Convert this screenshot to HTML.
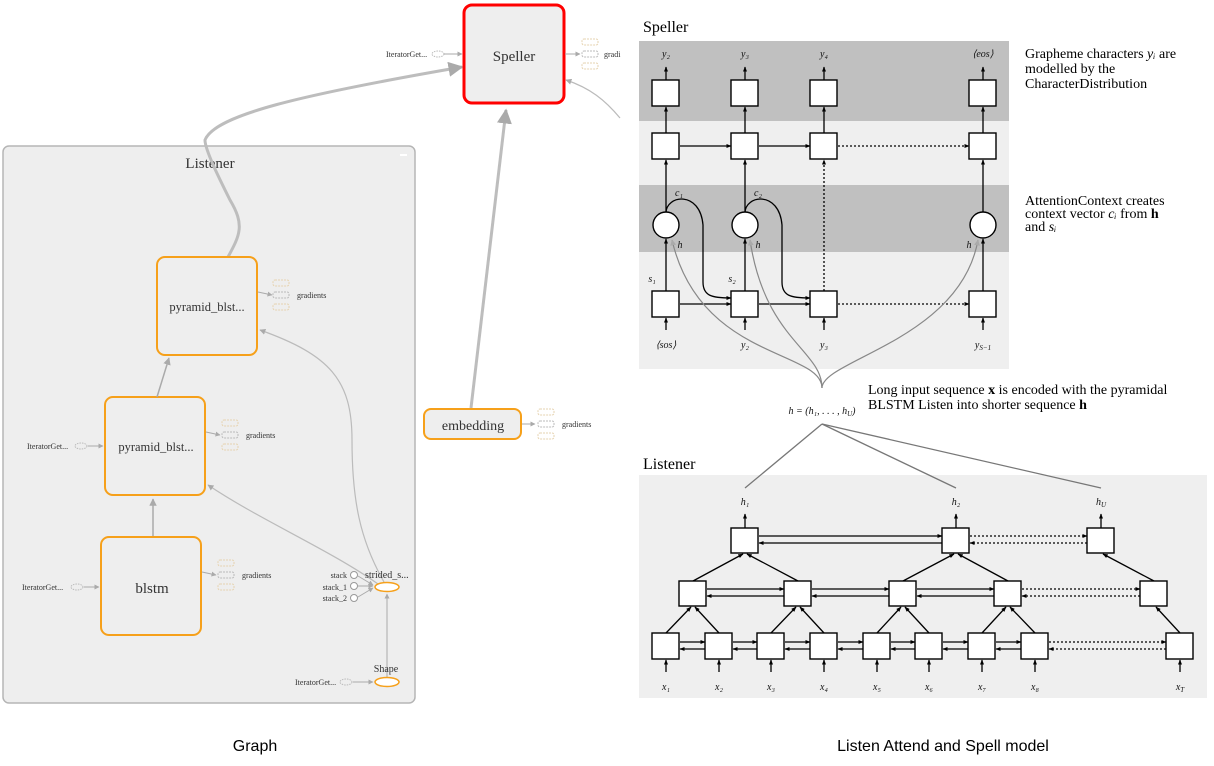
<!DOCTYPE html>
<html><head><meta charset="utf-8"><style>
html,body{margin:0;padding:0;background:#fff;}
svg{display:block;}
.g{font-family:"Liberation Serif",serif;fill:#333;}
.m{font-family:"Liberation Serif",serif;fill:#111;font-style:italic;}
.t{font-family:"Liberation Serif",serif;fill:#000;}
</style></head><body>
<svg width="1214" height="766" viewBox="0 0 1214 766" xmlns="http://www.w3.org/2000/svg">
<defs>
<marker id="ga" viewBox="0 0 10 10" refX="9" refY="5" markerWidth="5" markerHeight="5" orient="auto"><path d="M0,0L10,5L0,10z" fill="#aaa"/></marker>
<marker id="ba" viewBox="0 0 10 10" refX="9" refY="5" markerWidth="4" markerHeight="4" orient="auto"><path d="M0,1L10,5L0,9z" fill="#000"/></marker>
<g id="icons">
<rect x="0" y="-15" width="16" height="6" rx="2" fill="none" stroke="#e6d3b0" stroke-dasharray="2,1"/>
<rect x="0" y="-3" width="16" height="6" rx="2" fill="none" stroke="#bbb" stroke-dasharray="2,1"/>
<rect x="0" y="9" width="16" height="6" rx="2" fill="none" stroke="#e6d3b0" stroke-dasharray="2,1"/>
</g>
</defs>

<!-- ============ GRAPH (left) ============ -->
<rect x="3" y="146" width="412" height="557" rx="6" fill="#eeeeee" stroke="#b5b5b5" stroke-width="1.5"/>
<rect x="400" y="154" width="7" height="2" fill="#fff"/>
<text x="210" y="168" class="g" font-size="15" text-anchor="middle">Listener</text>

<path d="M228,257 C240,235 245,225 230,200 C220,180 205,150 205,140 C215,115 300,95 462,67" fill="none" stroke="#bdbdbd" stroke-width="3" marker-end="url(#ga)"/>
<path d="M471,408 L506,110" fill="none" stroke="#bdbdbd" stroke-width="3" marker-end="url(#ga)"/>
<path d="M620,118 C605,100 590,88 566,80" fill="none" stroke="#bbb" stroke-width="1.2" marker-end="url(#ga)"/>

<rect x="464" y="5" width="100" height="98" rx="8" fill="#eeeeee" stroke="#f00" stroke-width="3"/>
<text x="514" y="61" class="g" font-size="15" text-anchor="middle">Speller</text>
<text x="386" y="57" class="g" font-size="8">IteratorGet...</text>
<ellipse cx="438" cy="54" rx="6" ry="3" fill="none" stroke="#bbb" stroke-dasharray="1.5,1"/>
<line x1="444" y1="54" x2="462" y2="54" stroke="#aaa" marker-end="url(#ga)"/>
<line x1="565" y1="54" x2="580" y2="54" stroke="#aaa" marker-end="url(#ga)"/>
<use href="#icons" x="582" y="54"/>
<text x="604" y="57" class="g" font-size="8">gradi</text>

<rect x="157" y="257" width="100" height="98" rx="8" fill="#eeeeee" stroke="#f6a01a" stroke-width="2"/>
<text x="207" y="311" class="g" font-size="12.5" text-anchor="middle">pyramid_blst...</text>
<line x1="258" y1="292" x2="272" y2="295" stroke="#aaa" marker-end="url(#ga)"/>
<use href="#icons" x="273" y="295"/>
<text x="297" y="298" class="g" font-size="8">gradients</text>

<rect x="105" y="397" width="100" height="98" rx="8" fill="#eeeeee" stroke="#f6a01a" stroke-width="2"/>
<text x="156" y="451" class="g" font-size="12.5" text-anchor="middle">pyramid_blst...</text>
<text x="27" y="449" class="g" font-size="8">IteratorGet...</text>
<ellipse cx="81" cy="446" rx="6" ry="3" fill="none" stroke="#bbb" stroke-dasharray="1.5,1"/>
<line x1="88" y1="446" x2="103" y2="446" stroke="#aaa" marker-end="url(#ga)"/>
<line x1="206" y1="432" x2="220" y2="435" stroke="#aaa" marker-end="url(#ga)"/>
<use href="#icons" x="222" y="435"/>
<text x="246" y="438" class="g" font-size="8">gradients</text>
<line x1="157" y1="397" x2="169" y2="358" stroke="#aaa" stroke-width="1.5" marker-end="url(#ga)"/>

<rect x="101" y="537" width="100" height="98" rx="8" fill="#eeeeee" stroke="#f6a01a" stroke-width="2"/>
<text x="152" y="593" class="g" font-size="15" text-anchor="middle">blstm</text>
<text x="22" y="590" class="g" font-size="8">IteratorGet...</text>
<ellipse cx="77" cy="587" rx="6" ry="3" fill="none" stroke="#bbb" stroke-dasharray="1.5,1"/>
<line x1="84" y1="587" x2="99" y2="587" stroke="#aaa" marker-end="url(#ga)"/>
<line x1="202" y1="572" x2="216" y2="575" stroke="#aaa" marker-end="url(#ga)"/>
<use href="#icons" x="218" y="575"/>
<text x="242" y="578" class="g" font-size="8">gradients</text>
<line x1="153" y1="536" x2="153" y2="499" stroke="#aaa" stroke-width="1.5" marker-end="url(#ga)"/>

<path d="M378,584 C330,550 260,520 208,485" fill="none" stroke="#bbb" stroke-width="1.2" marker-end="url(#ga)"/>
<path d="M384,582 C360,540 352,500 352,440 C352,380 330,355 260,330" fill="none" stroke="#bbb" stroke-width="1.2" marker-end="url(#ga)"/>
<text x="347" y="578" class="g" font-size="8" text-anchor="end">stack</text>
<text x="347" y="590" class="g" font-size="8" text-anchor="end">stack_1</text>
<text x="347" y="601" class="g" font-size="8" text-anchor="end">stack_2</text>
<circle cx="354" cy="575" r="3.5" fill="#fff" stroke="#999"/>
<circle cx="354" cy="586" r="3.5" fill="#fff" stroke="#999"/>
<circle cx="354" cy="598" r="3.5" fill="#fff" stroke="#999"/>
<line x1="358" y1="576" x2="373" y2="585" stroke="#aaa" marker-end="url(#ga)"/>
<line x1="358" y1="586" x2="373" y2="586" stroke="#aaa" marker-end="url(#ga)"/>
<line x1="358" y1="597" x2="373" y2="588" stroke="#aaa" marker-end="url(#ga)"/>
<text x="365" y="578" class="g" font-size="10">strided_s...</text>
<ellipse cx="387" cy="587" rx="12" ry="4.5" fill="#fff" stroke="#f6a01a" stroke-width="1.5"/>
<line x1="387" y1="677" x2="387" y2="594" stroke="#aaa" marker-end="url(#ga)"/>
<text x="386" y="672" class="g" font-size="10" text-anchor="middle">Shape</text>
<text x="295" y="685" class="g" font-size="8">IteratorGet...</text>
<ellipse cx="346" cy="682" rx="6" ry="3" fill="none" stroke="#bbb" stroke-dasharray="1.5,1"/>
<line x1="353" y1="682" x2="373" y2="682" stroke="#aaa" marker-end="url(#ga)"/>
<ellipse cx="387" cy="682" rx="12" ry="4.5" fill="#fff" stroke="#f6a01a" stroke-width="1.5"/>

<rect x="424" y="409" width="97" height="30" rx="7" fill="#eeeeee" stroke="#f6a01a" stroke-width="2"/>
<text x="473" y="430" class="g" font-size="14" text-anchor="middle">embedding</text>
<line x1="522" y1="424" x2="535" y2="424" stroke="#aaa" marker-end="url(#ga)"/>
<use href="#icons" x="538" y="424"/>
<text x="562" y="427" class="g" font-size="8">gradients</text>

<text x="255" y="751" font-family="Liberation Sans,sans-serif" font-size="16" text-anchor="middle" fill="#000">Graph</text>

<!-- ============ SPELLER (right) ============ -->
<text x="643" y="32" class="t" font-size="16">Speller</text>
<rect x="639" y="41" width="370" height="80" fill="#c0c0c0"/>
<rect x="639" y="121" width="370" height="64" fill="#efefef"/>
<rect x="639" y="185" width="370" height="67" fill="#c0c0c0"/>
<rect x="639" y="252" width="370" height="117" fill="#efefef"/>

<g stroke="#000" stroke-width="1.3" fill="none">
<line x1="666" y1="80" x2="666" y2="67" marker-end="url(#ba)"/>
<line x1="745" y1="80" x2="745" y2="67" marker-end="url(#ba)"/>
<line x1="824" y1="80" x2="824" y2="67" marker-end="url(#ba)"/>
<line x1="983" y1="80" x2="983" y2="67" marker-end="url(#ba)"/>
<line x1="666" y1="133" x2="666" y2="107" marker-end="url(#ba)"/>
<line x1="745" y1="133" x2="745" y2="107" marker-end="url(#ba)"/>
<line x1="824" y1="133" x2="824" y2="107" marker-end="url(#ba)"/>
<line x1="983" y1="133" x2="983" y2="107" marker-end="url(#ba)"/>
<line x1="666" y1="213" x2="666" y2="160" marker-end="url(#ba)"/>
<line x1="745" y1="213" x2="745" y2="160" marker-end="url(#ba)"/>
<line x1="983" y1="213" x2="983" y2="160" marker-end="url(#ba)"/>
<line x1="666" y1="291" x2="666" y2="239" marker-end="url(#ba)"/>
<line x1="745" y1="291" x2="745" y2="239" marker-end="url(#ba)"/>
<line x1="983" y1="291" x2="983" y2="239" marker-end="url(#ba)"/>
<line x1="824" y1="291" x2="824" y2="160" stroke-dasharray="2,2" marker-end="url(#ba)"/>
<line x1="666" y1="330" x2="666" y2="318" marker-end="url(#ba)"/>
<line x1="745" y1="330" x2="745" y2="318" marker-end="url(#ba)"/>
<line x1="824" y1="330" x2="824" y2="318" marker-end="url(#ba)"/>
<line x1="983" y1="330" x2="983" y2="318" marker-end="url(#ba)"/>
<line x1="680" y1="146" x2="731" y2="146" marker-end="url(#ba)"/>
<line x1="759" y1="146" x2="810" y2="146" marker-end="url(#ba)"/>
<line x1="838" y1="146" x2="969" y2="146" stroke-dasharray="2,2" marker-end="url(#ba)"/>
<line x1="680" y1="304" x2="731" y2="304" marker-end="url(#ba)"/>
<line x1="759" y1="304" x2="810" y2="304" marker-end="url(#ba)"/>
<line x1="838" y1="304" x2="969" y2="304" stroke-dasharray="2,2" marker-end="url(#ba)"/>
<path d="M666,213 C666,195 700,190 703,225 L703,282 C703,296 712,298 731,298" marker-end="url(#ba)"/>
<path d="M745,213 C745,195 779,190 782,225 L782,282 C782,296 791,298 810,298" marker-end="url(#ba)"/>
</g>
<g stroke="#888" stroke-width="1.2" fill="none">
<path d="M822,388 C822,350 700,360 672,240" marker-end="url(#ga)"/>
<path d="M822,388 C822,350 765,340 750,240" marker-end="url(#ga)"/>
<path d="M822,388 C822,360 960,340 978,240" marker-end="url(#ga)"/>
</g>
<g fill="#fff" stroke="#000" stroke-width="1.4">
<rect x="652" y="80" width="27" height="26"/><rect x="731" y="80" width="27" height="26"/><rect x="810" y="80" width="27" height="26"/><rect x="969" y="80" width="27" height="26"/>
<rect x="652" y="133" width="27" height="26"/><rect x="731" y="133" width="27" height="26"/><rect x="810" y="133" width="27" height="26"/><rect x="969" y="133" width="27" height="26"/>
<circle cx="666" cy="225" r="13"/><circle cx="745" cy="225" r="13"/><circle cx="983" cy="225" r="13"/>
<rect x="652" y="291" width="27" height="26"/><rect x="731" y="291" width="27" height="26"/><rect x="810" y="291" width="27" height="26"/><rect x="969" y="291" width="27" height="26"/>
</g>
<g class="m" font-size="10" text-anchor="middle">
<text x="666" y="57">y₂</text><text x="745" y="57">y₃</text><text x="824" y="57">y₄</text><text x="983" y="57">⟨eos⟩</text>
<text x="679" y="196">c₁</text><text x="758" y="196">c₂</text>
<text x="680" y="248">h</text><text x="758" y="248">h</text><text x="969" y="248">h</text>
<text x="652" y="282">s₁</text><text x="732" y="282">s₂</text>
<text x="666" y="348">⟨sos⟩</text><text x="745" y="348">y₂</text><text x="824" y="348">y₃</text><text x="983" y="348">y<tspan font-size="7" dy="2">S−1</tspan></text>
<text x="822" y="414" font-size="10">h = (h₁, . . . , h<tspan font-size="7" dy="2">U</tspan><tspan dy="-2">)</tspan></text>
</g>
<g class="t" font-size="14">
<text x="1025" y="58">Grapheme characters <tspan font-style="italic">yᵢ</tspan> are</text>
<text x="1025" y="73">modelled by the</text>
<text x="1025" y="88">CharacterDistribution</text>
<text x="1025" y="205">AttentionContext creates</text>
<text x="1025" y="218">context vector <tspan font-style="italic">cᵢ</tspan> from <tspan font-weight="bold">h</tspan></text>
<text x="1025" y="231">and <tspan font-style="italic">sᵢ</tspan></text>
<text x="868" y="394">Long input sequence <tspan font-weight="bold">x</tspan> is encoded with the pyramidal</text>
<text x="868" y="409">BLSTM Listen into shorter sequence <tspan font-weight="bold">h</tspan></text>
</g>

<!-- ============ LISTENER (right bottom) ============ -->
<text x="643" y="469" class="t" font-size="16">Listener</text>
<rect x="639" y="475" width="568" height="223" fill="#efefef"/>
<g stroke="#777" stroke-width="1.3">
<line x1="822" y1="424" x2="745" y2="488"/>
<line x1="822" y1="424" x2="956" y2="488"/>
<line x1="822" y1="424" x2="1101" y2="488"/>
</g>
<g stroke="#000" stroke-width="1.3" fill="none">
<line x1="666" y1="672" x2="666" y2="660" marker-end="url(#ba)"/>
<line x1="719" y1="672" x2="719" y2="660" marker-end="url(#ba)"/>
<line x1="771" y1="672" x2="771" y2="660" marker-end="url(#ba)"/>
<line x1="824" y1="672" x2="824" y2="660" marker-end="url(#ba)"/>
<line x1="877" y1="672" x2="877" y2="660" marker-end="url(#ba)"/>
<line x1="929" y1="672" x2="929" y2="660" marker-end="url(#ba)"/>
<line x1="982" y1="672" x2="982" y2="660" marker-end="url(#ba)"/>
<line x1="1035" y1="672" x2="1035" y2="660" marker-end="url(#ba)"/>
<line x1="1180" y1="672" x2="1180" y2="660" marker-end="url(#ba)"/>
<line x1="666" y1="633" x2="691" y2="607" marker-end="url(#ba)"/><line x1="719" y1="633" x2="695" y2="607" marker-end="url(#ba)"/>
<line x1="771" y1="633" x2="796" y2="607" marker-end="url(#ba)"/><line x1="824" y1="633" x2="800" y2="607" marker-end="url(#ba)"/>
<line x1="877" y1="633" x2="901" y2="607" marker-end="url(#ba)"/><line x1="929" y1="633" x2="905" y2="607" marker-end="url(#ba)"/>
<line x1="982" y1="633" x2="1006" y2="607" marker-end="url(#ba)"/><line x1="1035" y1="633" x2="1010" y2="607" marker-end="url(#ba)"/>
<line x1="1180" y1="633" x2="1156" y2="607" marker-end="url(#ba)"/>
<line x1="693" y1="581" x2="743" y2="554" marker-end="url(#ba)"/><line x1="798" y1="581" x2="747" y2="554" marker-end="url(#ba)"/>
<line x1="903" y1="581" x2="954" y2="554" marker-end="url(#ba)"/><line x1="1008" y1="581" x2="958" y2="554" marker-end="url(#ba)"/>
<line x1="1154" y1="581" x2="1103" y2="554" marker-end="url(#ba)"/>
<line x1="745" y1="528" x2="745" y2="514" marker-end="url(#ba)"/>
<line x1="956" y1="528" x2="956" y2="514" marker-end="url(#ba)"/>
<line x1="1101" y1="528" x2="1101" y2="514" marker-end="url(#ba)"/>
<line x1="680" y1="642" x2="705" y2="642" marker-end="url(#ba)"/><line x1="705" y1="649" x2="680" y2="649" marker-end="url(#ba)"/>
<line x1="733" y1="642" x2="757" y2="642" marker-end="url(#ba)"/><line x1="757" y1="649" x2="733" y2="649" marker-end="url(#ba)"/>
<line x1="785" y1="642" x2="810" y2="642" marker-end="url(#ba)"/><line x1="810" y1="649" x2="785" y2="649" marker-end="url(#ba)"/>
<line x1="838" y1="642" x2="863" y2="642" marker-end="url(#ba)"/><line x1="863" y1="649" x2="838" y2="649" marker-end="url(#ba)"/>
<line x1="891" y1="642" x2="915" y2="642" marker-end="url(#ba)"/><line x1="915" y1="649" x2="891" y2="649" marker-end="url(#ba)"/>
<line x1="943" y1="642" x2="968" y2="642" marker-end="url(#ba)"/><line x1="968" y1="649" x2="943" y2="649" marker-end="url(#ba)"/>
<line x1="996" y1="642" x2="1021" y2="642" marker-end="url(#ba)"/><line x1="1021" y1="649" x2="996" y2="649" marker-end="url(#ba)"/>
<line x1="1049" y1="642" x2="1166" y2="642" stroke-dasharray="2,2" marker-end="url(#ba)"/><line x1="1166" y1="649" x2="1049" y2="649" stroke-dasharray="2,2" marker-end="url(#ba)"/>
<line x1="707" y1="589" x2="784" y2="589" marker-end="url(#ba)"/><line x1="784" y1="596" x2="707" y2="596" marker-end="url(#ba)"/>
<line x1="812" y1="589" x2="889" y2="589" marker-end="url(#ba)"/><line x1="889" y1="596" x2="812" y2="596" marker-end="url(#ba)"/>
<line x1="917" y1="589" x2="994" y2="589" marker-end="url(#ba)"/><line x1="994" y1="596" x2="917" y2="596" marker-end="url(#ba)"/>
<line x1="1022" y1="589" x2="1140" y2="589" stroke-dasharray="2,2" marker-end="url(#ba)"/><line x1="1140" y1="596" x2="1022" y2="596" stroke-dasharray="2,2" marker-end="url(#ba)"/>
<line x1="759" y1="536" x2="942" y2="536" marker-end="url(#ba)"/><line x1="942" y1="543" x2="759" y2="543" marker-end="url(#ba)"/>
<line x1="970" y1="536" x2="1087" y2="536" stroke-dasharray="2,2" marker-end="url(#ba)"/><line x1="1087" y1="543" x2="970" y2="543" stroke-dasharray="2,2" marker-end="url(#ba)"/>
</g>
<g fill="#fff" stroke="#000" stroke-width="1.4">
<rect x="652" y="633" width="27" height="26"/><rect x="705" y="633" width="27" height="26"/><rect x="757" y="633" width="27" height="26"/><rect x="810" y="633" width="27" height="26"/>
<rect x="863" y="633" width="27" height="26"/><rect x="915" y="633" width="27" height="26"/><rect x="968" y="633" width="27" height="26"/><rect x="1021" y="633" width="27" height="26"/><rect x="1166" y="633" width="27" height="26"/>
<rect x="679" y="581" width="27" height="25"/><rect x="784" y="581" width="27" height="25"/><rect x="889" y="581" width="27" height="25"/><rect x="994" y="581" width="27" height="25"/><rect x="1140" y="581" width="27" height="25"/>
<rect x="731" y="528" width="27" height="25"/><rect x="942" y="528" width="27" height="25"/><rect x="1087" y="528" width="27" height="25"/>
</g>
<g class="m" font-size="10" text-anchor="middle">
<text x="745" y="505">h₁</text><text x="956" y="505">h₂</text><text x="1101" y="505">h<tspan font-size="7" dy="2">U</tspan></text>
<text x="666" y="690">x₁</text><text x="719" y="690">x₂</text><text x="771" y="690">x₃</text><text x="824" y="690">x₄</text>
<text x="877" y="690">x₅</text><text x="929" y="690">x₆</text><text x="982" y="690">x₇</text><text x="1035" y="690">x₈</text><text x="1180" y="690">x<tspan font-size="7" dy="2">T</tspan></text>
</g>

<text x="943" y="751" font-family="Liberation Sans,sans-serif" font-size="16" text-anchor="middle" fill="#000">Listen Attend and Spell model</text>
</svg>
</body></html>
